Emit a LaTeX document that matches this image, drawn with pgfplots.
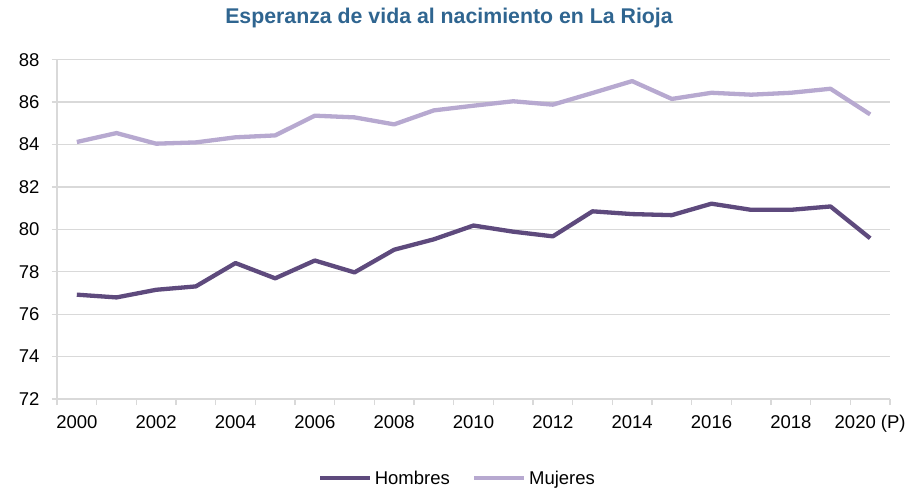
\documentclass[border=0pt]{standalone}
\usepackage{fontspec}
\setmainfont{Liberation Sans}
\usepackage{pgfplots}
\pgfplotsset{compat=1.18}
\definecolor{hombres}{HTML}{5E4A7D}
\definecolor{mujeres}{HTML}{B7A9D0}
\definecolor{titleblue}{HTML}{2F6590}
\definecolor{gridgray}{HTML}{D9D9D9}
\begin{document}
\begin{tikzpicture}
\path[use as bounding box] (0,0) rectangle (908pt,488pt);
\begin{axis}[
    at={(57pt,89pt)}, anchor=south west,
    scale only axis,
    width=833pt, height=339.3pt,
    xmin=0, xmax=21,
    ymin=72, ymax=88,
    ytick={72,74,...,88},
    xtick={0.5,2.5,...,20.5},
    xticklabels={2000,2002,2004,2006,2008,2010,2012,2014,2016,2018,2020 (P)},
    minor xtick={0,1,...,21},
    major x tick style={draw=none},
    minor x tick style={gridgray, line width=1.3pt},
    major y tick style={gridgray, line width=1.3pt},
    major tick length=5pt,
    minor tick length=6pt,
    tick align=outside,
    axis x line*=bottom,
    axis y line*=left,
    axis line style={gridgray, line width=1.5pt},
    ymajorgrids,
    grid style={gridgray, line width=1.3pt},
    tick label style={font=\fontsize{18.5}{22}\selectfont, text=black},
    xticklabel style={yshift=-8pt},
    yticklabel style={xshift=-9pt},
    /pgf/number format/assume math mode=true,
    title={Esperanza de vida al nacimiento en La Rioja},
    title style={at={(axis description cs:0.5,1)}, anchor=base, yshift=30pt, xshift=-24.5pt,
        font=\bfseries\fontsize{21.3}{25}\selectfont, text=titleblue},
    legend columns=2,
    legend style={draw=none, at={(axis description cs:0.481,-0.233)}, anchor=center,
        font=\fontsize{18.5}{22}\selectfont,
        /tikz/every even column/.append style={column sep=20pt},
        nodes={inner xsep=2.5pt}},
    legend image code/.code={\draw[#1] (0pt,0pt) -- (50pt,0pt);},
]
\addplot[hombres, line width=4.3pt, line join=round] coordinates {
(0.5,76.92) (1.5,76.79) (2.5,77.15) (3.5,77.31) (4.5,78.41) (5.5,77.69)
(6.5,78.53) (7.5,77.97) (8.5,79.04) (9.5,79.53) (10.5,80.18) (11.5,79.89)
(12.5,79.67) (13.5,80.85) (14.5,80.72) (15.5,80.67) (16.5,81.21) (17.5,80.92)
(18.5,80.92) (19.5,81.08) (20.5,79.58)
};
\addlegendentry{Hombres}
\addplot[mujeres, line width=4.3pt, line join=round] coordinates {
(0.5,84.12) (1.5,84.54) (2.5,84.04) (3.5,84.10) (4.5,84.34) (5.5,84.43)
(6.5,85.36) (7.5,85.28) (8.5,84.95) (9.5,85.61) (10.5,85.83) (11.5,86.04)
(12.5,85.88) (13.5,86.43) (14.5,86.99) (15.5,86.15) (16.5,86.44) (17.5,86.35)
(18.5,86.44) (19.5,86.63) (20.5,85.42)
};
\addlegendentry{Mujeres}
\end{axis}
\end{tikzpicture}
\end{document}
